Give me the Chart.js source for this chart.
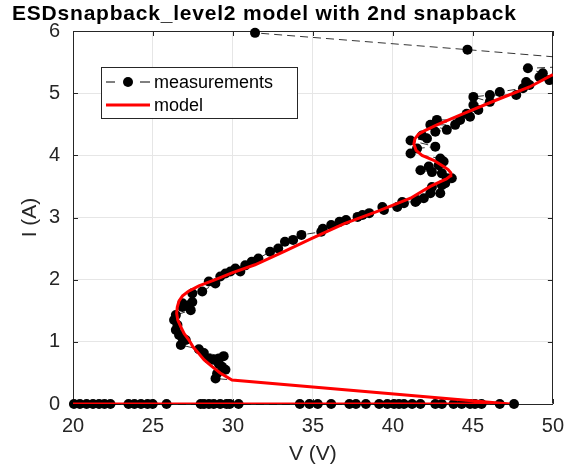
<!DOCTYPE html>
<html>
<head>
<meta charset="utf-8">
<script src="https://cdn.jsdelivr.net/npm/chart.js@4"></script>
<style>
  html, body { margin: 0; padding: 0; background: #fff; }
  canvas { display: block; }
</style>
</head>
<body>
<canvas id="chart" width="574" height="467"></canvas>
<script>
const titleText = 'ESDsnapback_level2 model with 2nd snapback';
const xLabel = 'V (V)';
const yLabel = 'I (A)';
const seriesNames = ['measurements', 'model'];
const xTicks = [20, 25, 30, 35, 40, 45, 50];
const yTicks = [0, 1, 2, 3, 4, 5, 6];

// measured points, in measurement order (off-state row first, then the snapback branch)
const measV = [
    20.06, 20.43, 20.85, 21.25, 21.63, 21.97, 22.34, 23.47, 23.84, 24.25, 24.66, 24.98, 25.85,
    27.98, 28.19, 28.5, 28.8, 29.2, 29.6, 29.8, 30.35, 34.18, 34.78, 35.3, 36.14, 37.28, 37.69,
    38.31, 39.14, 39.65, 40.07, 40.38, 40.69, 41.2, 41.72, 42.65, 43.06, 43.79, 44.3, 44.82,
    45.13, 45.54, 46.68, 47.57,
    28.91, 29.01, 29.53, 29.32, 29.11, 28.8, 29.11, 28.49, 29.42, 28.18, 27.87, 26.74, 27.05,
    26.84, 26.63, 26.43, 26.53, 26.32, 26.43, 27.36, 26.84, 27.25, 26.84, 27.46, 27.46, 28.08,
    28.9, 28.49, 29.21, 29.53, 29.84, 30.46, 30.15, 30.77, 31.18, 31.59, 32.32, 32.83, 33.25,
    33.76, 34.28, 35.52, 35.62, 36.14, 36.66, 37.07, 37.79, 38.1, 38.52, 39.44, 39.34, 40.27,
    40.69, 40.58, 41.41, 41.51, 41.93, 42.34, 42.96, 42.44, 43.06, 43.27, 43.37, 43.68, 43.06,
    42.44, 41.72, 42.24, 42.86, 43.17, 42.96, 41.1, 41.51, 42.65, 41.1, 42.13, 41.82, 42.65,
    43.37, 42.34, 43.89, 42.75, 44.2, 44.82, 44.61, 45.34, 45.03, 46.06, 45.03, 46.06, 47.71,
    46.68, 48.13, 48.54, 48.33, 49.78, 49.16, 49.37, 48.44, 53.0, 54.0, 44.66, 31.38
];
const measI = [
    0, 0, 0, 0, 0, 0, 0, 0, 0, 0, 0, 0, 0,
    0, 0, 0, 0, 0, 0, 0, 0, 0, 0, 0, 0, 0, 0,
    0, 0, 0, 0, 0, 0, 0, 0, 0, 0, 0, 0, 0,
    0, 0, 0, 0,
    0.41, 0.49, 0.55, 0.6, 0.65, 0.71, 0.73, 0.73, 0.77, 0.82, 0.88, 0.95, 1.03,
    1.06, 1.11, 1.19, 1.27, 1.35, 1.43, 1.51, 1.56, 1.59, 1.62, 1.64, 1.78, 1.81,
    1.94, 1.97, 2.05, 2.1, 2.13, 2.13, 2.18, 2.23, 2.29, 2.34, 2.45, 2.5, 2.61,
    2.64, 2.72, 2.77, 2.82, 2.88, 2.93, 2.96, 3.01, 3.04, 3.07, 3.12, 3.17, 3.17,
    3.23, 3.25, 3.25, 3.28, 3.31, 3.39, 3.39, 3.49, 3.52, 3.55, 3.63, 3.63, 3.71,
    3.73, 3.76, 3.82, 3.84, 3.9, 3.95, 4.03, 4.11, 4.14, 4.24, 4.27, 4.32, 4.38,
    4.41, 4.49, 4.49, 4.57, 4.57, 4.62, 4.67, 4.73, 4.81, 4.86, 4.94, 4.97, 4.97,
    5.02, 5.08, 5.13, 5.18, 5.21, 5.26, 5.32, 5.4, 5.45, 5.5, 5.7, 5.97
];

// model trace
const modelV = [
    20, 47.3, 29.94, 29.2, 28.7, 28.2, 27.87, 27.5, 27.25, 26.95, 26.74, 26.55, 26.48, 26.52,
    26.63, 26.85, 27.2, 27.87, 28.9, 29.94, 31.38, 33.25, 34.9, 36.96, 39.03, 41.1, 42.34,
    42.9, 43.35, 43.6, 43.62, 43.45, 43.17, 42.55, 41.82, 41.45, 41.31, 41.38, 41.6, 41.93,
    42.75, 44.41, 46.47, 48.54, 50
];
const modelI = [
    0, 0, 0.386, 0.5, 0.6, 0.71, 0.81, 0.92, 1.03, 1.13, 1.24, 1.35, 1.46, 1.56,
    1.66, 1.74, 1.81, 1.9, 2.0, 2.11, 2.24, 2.46, 2.66, 2.9, 3.1, 3.31, 3.5,
    3.57, 3.62, 3.67, 3.72, 3.77, 3.82, 3.92, 4.0, 4.08, 4.18, 4.27, 4.34, 4.39,
    4.49, 4.67, 4.89, 5.1, 5.3
];

const FONT = "'Liberation Sans', Arial, Helvetica, sans-serif";
const AXIS_COLOR = '#262626';
Chart.defaults.font.family = FONT;

function toPoints(xs, ys) {
    return xs.map((x, i) => ({ x: x, y: ys[i] }));
}

// top/right box lines and inward tick marks, MATLAB style
const framePlugin = {
    id: 'frame',
    beforeDatasetsDraw(chart) {
        const { ctx, chartArea: a, scales } = chart;
        ctx.save();
        ctx.strokeStyle = AXIS_COLOR;
        ctx.lineWidth = 1;
        ctx.beginPath();
        ctx.moveTo(Math.round(a.left) + 0.5, Math.round(a.top) + 0.5);
        ctx.lineTo(Math.round(a.right) - 0.5, Math.round(a.top) + 0.5);
        ctx.lineTo(Math.round(a.right) - 0.5, Math.round(a.bottom) - 0.5);
        ctx.stroke();
        const len = 5;
        ctx.beginPath();
        xTicks.forEach(v => {
            const px = Math.round(scales.x.getPixelForValue(v)) + 0.5;
            ctx.moveTo(px, a.bottom); ctx.lineTo(px, a.bottom - len);
            ctx.moveTo(px, a.top); ctx.lineTo(px, a.top + len);
        });
        yTicks.forEach(v => {
            const py = Math.round(scales.y.getPixelForValue(v)) + 0.5;
            ctx.moveTo(a.left, py); ctx.lineTo(a.left + len, py);
            ctx.moveTo(a.right, py); ctx.lineTo(a.right - len, py);
        });
        ctx.stroke();
        ctx.restore();
    }
};

const legendPlugin = {
    id: 'boxLegend',
    afterDraw(chart) {
        const ctx = chart.ctx;
        ctx.save();
        ctx.fillStyle = '#fff';
        ctx.fillRect(101.5, 67.5, 196, 51);
        ctx.strokeStyle = AXIS_COLOR;
        ctx.lineWidth = 1;
        ctx.strokeRect(101.5, 67.5, 196, 51);

        // measurements sample
        ctx.strokeStyle = '#000';
        ctx.lineWidth = 1;
        ctx.beginPath();
        ctx.moveTo(106, 82); ctx.lineTo(115, 82);
        ctx.moveTo(140, 82); ctx.lineTo(150, 82);
        ctx.stroke();
        ctx.fillStyle = '#000';
        ctx.beginPath();
        ctx.arc(128, 82, 5, 0, Math.PI * 2);
        ctx.fill();

        // model sample
        ctx.strokeStyle = '#ff0000';
        ctx.lineWidth = 3;
        ctx.beginPath();
        ctx.moveTo(106, 105); ctx.lineTo(150, 105);
        ctx.stroke();

        ctx.fillStyle = '#000';
        ctx.font = '18px ' + FONT;
        ctx.textAlign = 'left';
        ctx.textBaseline = 'middle';
        ctx.fillText(seriesNames[0], 154, 83);
        ctx.fillText(seriesNames[1], 154, 106);
        ctx.restore();
    }
};

const titlePlugin = {
    id: 'plotTitle',
    afterDraw(chart) {
        const ctx = chart.ctx;
        ctx.save();
        ctx.fillStyle = '#000';
        ctx.font = 'bold 21px ' + FONT;
        ctx.textAlign = 'left';
        ctx.textBaseline = 'alphabetic';
        const w = ctx.measureText(titleText).width;
        if ('letterSpacing' in ctx) {
            ctx.letterSpacing = ((504 - w) / (titleText.length - 1)).toFixed(2) + 'px';
        }
        ctx.fillText(titleText, 12, 20);
        ctx.restore();
    }
};

new Chart(document.getElementById('chart'), {
    type: 'scatter',
    data: {
        datasets: [
            {
                label: seriesNames[1],
                data: toPoints(modelV, modelI),
                showLine: true,
                borderColor: '#ff0000',
                borderWidth: 3,
                pointRadius: 0,
                tension: 0,
                order: 0
            },
            {
                label: seriesNames[0],
                data: toPoints(measV, measI),
                showLine: true,
                borderColor: '#000',
                borderWidth: 0.8,
                borderDash: [8, 5],
                pointRadius: 5,
                pointBackgroundColor: '#000',
                pointBorderColor: '#000',
                pointBorderWidth: 0,
                tension: 0,
                order: 1,
                clip: { left: 6, top: 6, right: 0, bottom: 6 }
            }
        ]
    },
    options: {
        responsive: false,
        animation: false,
        devicePixelRatio: 1,
        layout: { padding: { top: 31, right: 17, left: 0, bottom: 0 } },
        plugins: {
            legend: { display: false },
            tooltip: { enabled: false },
            title: { display: false }
        },
        scales: {
            x: {
                type: 'linear',
                min: 20,
                max: 50,
                afterFit: s => { s.height = 63; },
                afterBuildTicks: s => { s.ticks = xTicks.map(v => ({ value: v })); },
                ticks: { font: { size: 20 }, color: AXIS_COLOR, padding: 10, maxRotation: 0, autoSkip: false },
                grid: { color: '#e6e6e6', drawTicks: false },
                border: { color: AXIS_COLOR, width: 1 },
                title: { display: true, text: xLabel, font: { size: 21 }, color: AXIS_COLOR, padding: { top: 0, bottom: 0 } }
            },
            y: {
                type: 'linear',
                min: 0,
                max: 6,
                afterFit: s => { s.width = 73; },
                afterBuildTicks: s => { s.ticks = yTicks.map(v => ({ value: v })); },
                ticks: { font: { size: 20 }, color: AXIS_COLOR, padding: 13, autoSkip: false },
                grid: { color: '#e6e6e6', drawTicks: false },
                border: { color: AXIS_COLOR, width: 1 },
                title: { display: true, text: yLabel, font: { size: 21 }, color: AXIS_COLOR, padding: { top: 18, bottom: 0 } }
            }
        }
    },
    plugins: [framePlugin, legendPlugin, titlePlugin]
});
</script>
</body>
</html>
